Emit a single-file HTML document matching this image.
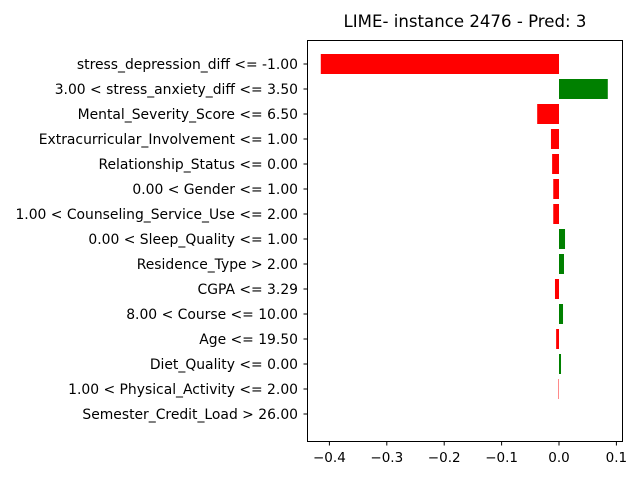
<!DOCTYPE html>
<html><head><meta charset="utf-8"><style>
body{margin:0;background:#fff;}
svg{display:block;font-family:"DejaVu Sans","Liberation Sans",sans-serif;}
</style></head><body>
<svg id="chart" width="640" height="480">
<text x="465" y="27" font-size="16.6" text-anchor="middle">LIME- instance 2476 - Pred: 3</text>
<g id="bars"></g>
<g id="ylabels"></g>
<g id="xticks"></g>
<rect x="307.5" y="40.5" width="315" height="401" fill="none" stroke="#000" stroke-width="1"/>
</svg>
<script>
const features=["stress_depression_diff <= -1.00","3.00 < stress_anxiety_diff <= 3.50","Mental_Severity_Score <= 6.50","Extracurricular_Involvement <= 1.00","Relationship_Status <= 0.00","0.00 < Gender <= 1.00","1.00 < Counseling_Service_Use <= 2.00","0.00 < Sleep_Quality <= 1.00","Residence_Type > 2.00","CGPA <= 3.29","8.00 < Course <= 10.00","Age <= 19.50","Diet_Quality <= 0.00","1.00 < Physical_Activity <= 2.00","Semester_Credit_Load > 26.00"];
const weights=[-0.415,0.085,-0.038,-0.014,-0.012,-0.010,-0.010,0.0105,0.0087,-0.007,0.007,-0.005,0.0035,-0.0008,0.0];
const tickVals=[-0.4,-0.3,-0.2,-0.1,0.0,0.1];
const tickLabels=["\u22120.4","\u22120.3","\u22120.2","\u22120.1","0.0","0.1"];
const NS="http://www.w3.org/2000/svg";
function xs(v){return 559+v*574;}
function ys(i){return 64+i*25;}
const bars=document.getElementById('bars'),yl=document.getElementById('ylabels'),xt=document.getElementById('xticks');
features.forEach((f,i)=>{
 const w=weights[i];
 const r=document.createElementNS(NS,'rect');
 r.setAttribute('x',Math.min(xs(0),xs(w)));
 r.setAttribute('y',ys(i)-10);
 r.setAttribute('width',Math.abs(xs(w)-xs(0)));
 r.setAttribute('height',20);
 r.setAttribute('fill',w>0?'#008000':'#ff0000');
 
 
 bars.appendChild(r);
 const l=document.createElementNS(NS,'line');
 l.setAttribute('x1',303.5);l.setAttribute('x2',307.5);
 l.setAttribute('y1',ys(i));l.setAttribute('y2',ys(i));l.setAttribute('stroke','#000');
 yl.appendChild(l);
 const t=document.createElementNS(NS,'text');
 t.setAttribute('x',298);t.setAttribute('y',ys(i)+5);
 t.setAttribute('font-size','13.9');t.setAttribute('text-anchor','end');
 t.textContent=f;
 
 
 yl.appendChild(t);
});
tickVals.forEach((v,i)=>{
 const x=xs(v);
 const l=document.createElementNS(NS,'line');
 l.setAttribute('x1',x);l.setAttribute('x2',x);
 l.setAttribute('y1',441);l.setAttribute('y2',445.5);l.setAttribute('stroke','#000');
 xt.appendChild(l);
 const t=document.createElementNS(NS,'text');
 t.setAttribute('x',x);t.setAttribute('y',462);
 t.setAttribute('font-size','13.5');t.setAttribute('text-anchor','middle');
 t.textContent=tickLabels[i];
 
 
 xt.appendChild(t);
});
</script>
</body></html>
